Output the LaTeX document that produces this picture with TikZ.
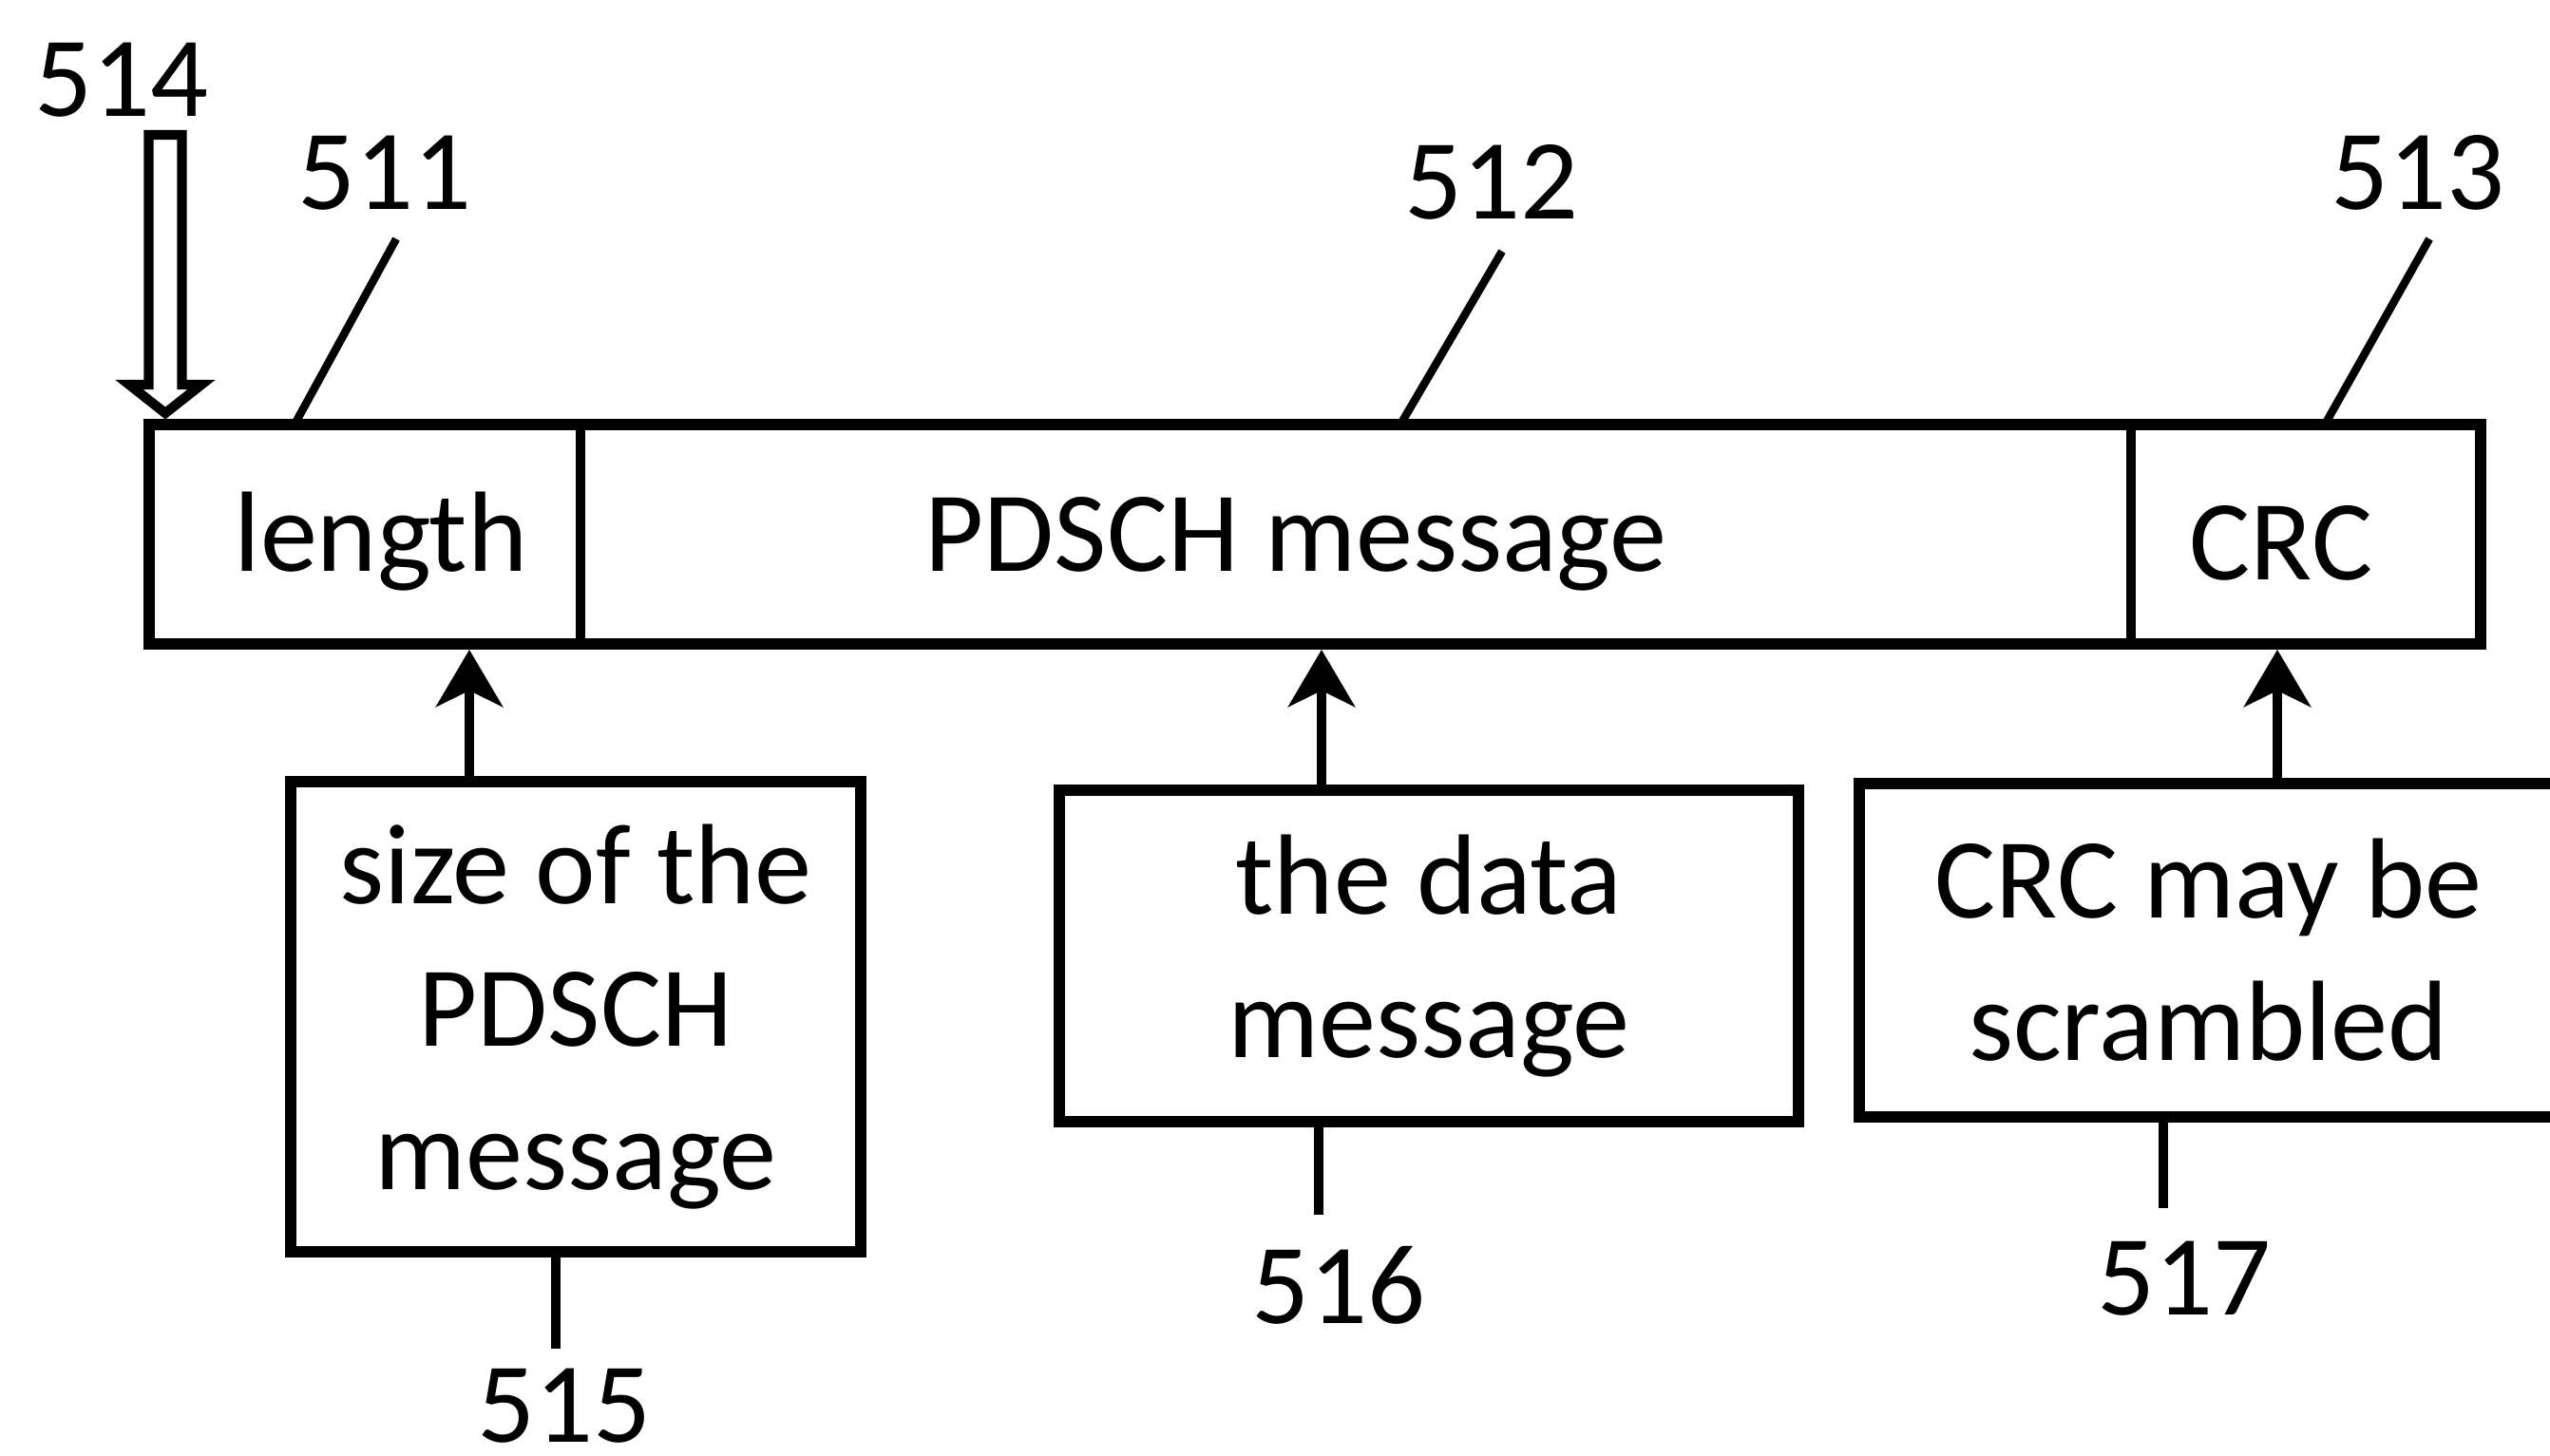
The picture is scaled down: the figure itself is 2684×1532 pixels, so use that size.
\documentclass[tikz,border=0pt]{standalone}
\usepackage{fontspec}
\setmainfont{Carlito}
\usetikzlibrary{positioning,arrows.meta}

\tikzset{
  px/.style={x=0.01cm, y=-0.01cm},
  cell/.style={draw, rectangle, line width=2.85pt, minimum height=2.31cm, inner sep=0pt, outer sep=0pt},
  frame/.style={line width=3.4pt},
  note/.style={draw, rectangle, line width=3.4pt, align=center, inner sep=0pt, outer sep=0pt},
  txt/.style={inner sep=0pt, anchor=base},
  leader/.style={line width=2.4pt},
  tail/.style={line width=2.8pt},
  feed/.style={line width=2.85pt, -{Stealth[length=0.6cm, width=0.7cm, inset=0.17cm]}},
  hollow/.style={line width=2.9pt, line join=miter}
}

\begin{document}
\begin{tikzpicture}[px, font=\fontsize{34.2pt}{42.7pt}\selectfont]
  \useasboundingbox (0,0) rectangle (2684,1532);

  % the bar
  \node[cell, minimum width=4.54cm] (len) at (384,562.5) {};
  \node[cell, minimum width=16.31cm, right=0pt of len] (msg) {};
  \node[cell, minimum width=3.68cm, right=0pt of msg] (crc) {};
  \draw[frame] (len.north west) rectangle (crc.south east);
  \node[txt] (lenText) at (401,601) {length};
  \node[txt] (msgText) at (1364,601) {PDSCH message};
  \node[txt] (crcText) at (2401,610) {CRC};

  % reference numerals on top
  \node[txt] (n514) at (128,122) {514};
  \node[txt] (n511) at (405,220) {511};
  \node[txt] (n512) at (1570,230) {512};
  \node[txt] (n513) at (2545,220) {513};
  \coordinate (t511) at (310,447);
  \coordinate (t512) at (1474,447);
  \coordinate (t513) at (2447,447);
  \draw[leader] ([xshift=0.12cm, yshift=-0.3cm]n511.south) -- (t511);
  \draw[leader] ([xshift=0.11cm, yshift=-0.33cm]n512.south) -- (t512);
  \draw[leader] ([xshift=0.12cm, yshift=-0.3cm]n513.south) -- (t513);

  % hollow arrow
  \coordinate (tip514) at (174,435);
  \draw[hollow, shift={(tip514)}] (-17.5,-293) -- (17.5,-293) -- (17.5,-30) -- (38,-30)
    -- (0,0) -- (-38,-30) -- (-17.5,-30) -- cycle;

  % boxes below
  \node[note, minimum width=6cm, minimum height=4.95cm] (size) at (606,1070.5) {size of the\\PDSCH\\message};
  \node[note, minimum width=7.78cm, minimum height=3.49cm] (data) at (1504,1006.5) {the data\\message};
  \node[note, minimum width=7.35cm, minimum height=3.51cm] (scram) at (2324.5,1000.5) {CRC may be\\scrambled};

  \coordinate (a515) at (494,684);
  \coordinate (a516) at (1391,684);
  \coordinate (a517) at (2397,684);
  \draw[feed] (a515 |- size.north) -- (a515);
  \draw[feed] (a516 |- data.north) -- (a516);
  \draw[feed] (a517 |- scram.north) -- (a517);

  \coordinate (e515) at (585,1420);
  \coordinate (e516) at (1388,1279);
  \coordinate (e517) at (2277,1272);
  \draw[tail] (size.south -| e515) -- (e515);
  \draw[tail] (data.south -| e516) -- (e516);
  \draw[tail] (scram.south -| e517) -- (e517);
  \node[txt] (n515) at (594,1518) {515};
  \node[txt] (n516) at (1409,1393) {516};
  \node[txt] (n517) at (2299,1384) {517};
\end{tikzpicture}
\end{document}
